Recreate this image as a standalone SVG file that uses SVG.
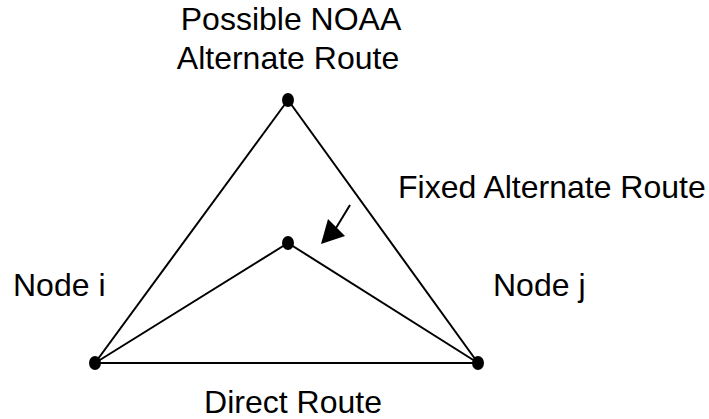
<svg xmlns="http://www.w3.org/2000/svg" width="709" height="419" viewBox="0 0 709 419">
<defs>
<style>
text{font-family:"Liberation Sans",Arial,sans-serif;font-size:32px;fill:#000}
.e{fill:none;stroke:#000;stroke-width:2}
.n{fill:#000}
</style>
</defs>
<rect width="709" height="419" fill="#fff"/>
<g id="connectors">
<line class="e" x1="288" y1="100" x2="95" y2="363"/>
<line class="e" x1="288" y1="100" x2="478" y2="363"/>
<line class="e" x1="95" y1="363" x2="478" y2="363"/>
<line class="e" x1="288" y1="243" x2="95" y2="363"/>
<line class="e" x1="288" y1="243" x2="478" y2="363"/>
<line class="e" x1="350" y1="205" x2="336" y2="228"/>
<path d="M321,244 L328,219 L345,236 z" fill="#000"/>
</g>
<g id="node-top"><ellipse class="n" cx="288" cy="100" rx="6" ry="7"/></g>
<g id="node-mid"><ellipse class="n" cx="288" cy="243" rx="6" ry="7"/></g>
<g id="node-i"><ellipse class="n" cx="95" cy="363" rx="6" ry="7"/></g>
<g id="node-j"><ellipse class="n" cx="478" cy="363" rx="6" ry="7"/></g>
<g id="labels">
<text x="291" y="30" text-anchor="middle">Possible NOAA</text>
<text x="288" y="69" text-anchor="middle">Alternate Route</text>
<text x="398" y="198">Fixed Alternate Route</text>
<text x="13" y="296">Node i</text>
<text x="493" y="296">Node j</text>
<text x="293" y="413" text-anchor="middle">Direct Route</text>
</g>
</svg>
